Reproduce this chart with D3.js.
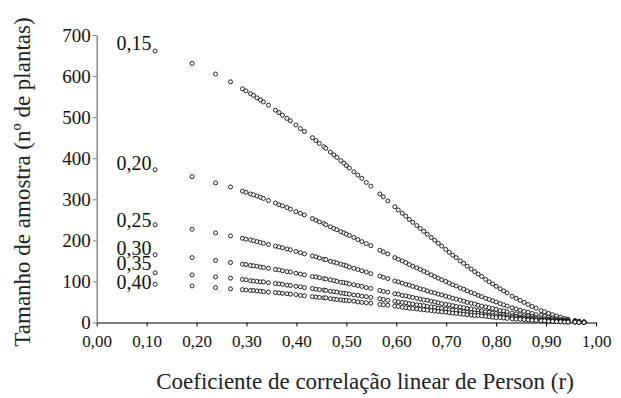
<!DOCTYPE html>
<html>
<head>
<meta charset="utf-8">
<script src="https://cdn.jsdelivr.net/npm/d3@7"></script>
<style>
body { margin: 0; background: #fff; }
svg { display: block; }
</style>
</head>
<body>
<div id="chart"></div>
<script>
// Pearson r observed for each pair of traits
var rValues = [0.117, 0.191, 0.238, 0.268, 0.292, 0.299, 0.308, 0.314, 0.321, 0.328,
    0.334, 0.344, 0.358, 0.365, 0.372, 0.381, 0.388, 0.399, 0.408, 0.416,
    0.432, 0.439, 0.446, 0.455, 0.459, 0.468, 0.475, 0.481, 0.489, 0.495,
    0.500, 0.506, 0.515, 0.523, 0.531, 0.540, 0.549, 0.567, 0.574, 0.583,
    0.597, 0.604, 0.612, 0.619, 0.626, 0.633, 0.641, 0.648, 0.655, 0.662,
    0.670, 0.677, 0.684, 0.691, 0.699, 0.706, 0.713, 0.720, 0.728, 0.735,
    0.742, 0.750, 0.757, 0.764, 0.771, 0.779, 0.786, 0.793, 0.800, 0.808,
    0.815, 0.822, 0.832, 0.840, 0.848, 0.856, 0.864, 0.872, 0.880, 0.890,
    0.897, 0.905, 0.913, 0.921, 0.929, 0.937, 0.944, 0.958, 0.966, 0.976];

// sample size for each semi-amplitude of the interval
var n015 = [661, 631, 605, 586, 569, 564, 557, 553, 547, 542,
    537, 529, 517, 511, 505, 497, 491, 481, 472, 465,
    450, 443, 436, 428, 424, 415, 408, 402, 394, 388,
    382, 376, 367, 359, 351, 341, 332, 313, 306, 296,
    282, 274, 266, 259, 251, 244, 236, 229, 222, 215,
    207, 200, 193, 186, 178, 171, 164, 158, 150, 144,
    137, 130, 124, 118, 112, 105, 99, 94, 88, 82,
    77, 72, 64, 59, 54, 49, 44, 39, 35, 29,
    26, 22, 19, 16, 13, 10, 8, 5, 3, 2];
var n020 = [372, 355, 340, 330, 320, 317, 313, 311, 308, 305,
    302, 297, 291, 287, 284, 280, 276, 270, 266, 262,
    253, 249, 245, 241, 238, 233, 229, 226, 221, 218,
    215, 212, 207, 202, 197, 192, 187, 176, 172, 167,
    158, 154, 150, 146, 141, 137, 133, 129, 125, 121,
    116, 112, 108, 104, 100, 96, 92, 89, 84, 81,
    77, 73, 70, 66, 63, 59, 56, 53, 50, 46,
    43, 40, 36, 33, 30, 27, 25, 22, 19, 17,
    15, 13, 11, 9, 7, 6, 5, 3, 2, 1];
var n025 = [238, 227, 218, 211, 205, 203, 201, 199, 197, 195,
    193, 190, 186, 184, 182, 179, 177, 173, 170, 167,
    162, 160, 157, 154, 153, 149, 147, 145, 142, 140,
    138, 135, 132, 129, 126, 123, 119, 113, 110, 107,
    101, 99, 96, 93, 91, 88, 85, 82, 80, 77,
    74, 72, 69, 67, 64, 62, 59, 57, 54, 52,
    49, 47, 45, 42, 40, 38, 36, 34, 32, 29,
    28, 26, 23, 21, 19, 17, 16, 14, 12, 11,
    9, 8, 7, 6, 5, 4, 3, 2, 1, 1];
var n030 = [165, 158, 151, 146, 142, 141, 139, 138, 137, 135,
    134, 132, 129, 128, 126, 124, 123, 120, 118, 116,
    112, 111, 109, 107, 106, 104, 102, 100, 98, 97,
    96, 94, 92, 90, 88, 85, 83, 78, 76, 74,
    70, 69, 66, 65, 63, 61, 59, 57, 55, 54,
    52, 50, 48, 46, 44, 43, 41, 39, 38, 36,
    34, 33, 31, 29, 28, 26, 25, 23, 22, 20,
    19, 18, 16, 15, 13, 12, 11, 10, 9, 7,
    6, 6, 5, 4, 3, 3, 2, 1, 1, 0];
var n035 = [121, 116, 111, 108, 105, 104, 102, 101, 100, 99,
    99, 97, 95, 94, 93, 91, 90, 88, 87, 85,
    83, 81, 80, 79, 78, 76, 75, 74, 72, 71,
    70, 69, 67, 66, 64, 63, 61, 58, 56, 54,
    52, 50, 49, 48, 46, 45, 43, 42, 41, 39,
    38, 37, 35, 34, 33, 31, 30, 29, 28, 26,
    25, 24, 23, 22, 21, 19, 18, 17, 16, 15,
    14, 13, 12, 11, 10, 9, 8, 7, 6, 5,
    5, 4, 3, 3, 2, 2, 1, 1, 1, 0];
var n040 = [93, 89, 85, 82, 80, 79, 78, 78, 77, 76,
    75, 74, 73, 72, 71, 70, 69, 68, 66, 65,
    63, 62, 61, 60, 60, 58, 57, 56, 55, 54,
    54, 53, 52, 50, 49, 48, 47, 44, 43, 42,
    40, 39, 37, 36, 35, 34, 33, 32, 31, 30,
    29, 28, 27, 26, 25, 24, 23, 22, 21, 20,
    19, 18, 17, 17, 16, 15, 14, 13, 12, 12,
    11, 10, 9, 8, 8, 7, 6, 5, 5, 4,
    4, 3, 3, 2, 2, 1, 1, 1, 0, 0];

var seriesNames = ["0,15", "0,20", "0,25", "0,30", "0,35", "0,40"];
var seriesValues = [n015, n020, n025, n030, n035, n040];

var xTicks = [0, 0.1, 0.2, 0.3, 0.4, 0.5, 0.6, 0.7, 0.8, 0.9, 1.0];
var yTicks = [0, 100, 200, 300, 400, 500, 600, 700];

var width = 621,
    height = 398;
var font = "'Liberation Serif', 'Times New Roman', serif";

// labels were nudged by hand in the original so they don't collide
var labelDy = [-1, 0, 2, 0, -3, 4.5];

var svg = d3.select("#chart").append("svg")
    .attr("width", width)
    .attr("height", height)
    .style("background-color", "white");

var x = d3.scaleLinear().domain([0, 1]).range([96.7, 596]);
var y = d3.scaleLinear().domain([0, 700]).range([322.5, 35]);

// x axis
var xAxis = svg.append("g")
    .attr("transform", "translate(0," + y(0) + ")")
    .call(d3.axisBottom(x)
        .tickValues(xTicks)
        .tickSize(4)
        .tickSizeOuter(0)
        .tickFormat(function(d) { return d3.format(".2f")(d).replace(".", ","); }));
xAxis.attr("font-family", null);
xAxis.select(".domain").attr("stroke", "#000").attr("stroke-width", 1.2);
xAxis.selectAll(".tick line").attr("stroke", "#000");
xAxis.selectAll(".tick text")
    .attr("dy", null)
    .attr("y", 24.5)
    .attr("fill", "#111")
    .style("font-family", font)
    .style("font-size", "17px");

// y axis
var yAxis = svg.append("g")
    .attr("transform", "translate(" + x(0) + ",0)")
    .call(d3.axisLeft(y)
        .tickValues(yTicks)
        .tickSize(4)
        .tickSizeOuter(0)
        .tickPadding(2));
yAxis.attr("font-family", null);
yAxis.select(".domain").attr("stroke", "#808080").attr("stroke-width", 1.4);
yAxis.selectAll(".tick line").attr("stroke", "#808080");
yAxis.selectAll(".tick text")
    .attr("fill", "#111")
    .style("font-family", font)
    .style("font-size", "19px");

// points
var series = svg.selectAll("g.series")
    .data(seriesValues)
    .join("g")
    .attr("class", "series");

series.selectAll("circle")
    .data(function(vals) {
        return vals.map(function(v, i) { return { r: rValues[i], n: v }; });
    })
    .join("circle")
    .attr("cx", function(d) { return x(d.r); })
    .attr("cy", function(d) { return y(d.n); })
    .attr("r", 2)
    .attr("fill", "white")
    .attr("stroke", "#000")
    .attr("stroke-width", 0.85);

// data labels next to the first point of each series
series.append("text")
    .attr("x", function(vals) { return x(rValues[0]) - 3.5; })
    .attr("y", function(vals, i) { return y(vals[0]) + labelDy[i]; })
    .attr("text-anchor", "end")
    .attr("fill", "#111")
    .style("font-family", font)
    .style("font-size", "20px")
    .text(function(vals, i) { return seriesNames[i]; });

// axis titles
svg.append("text")
    .attr("transform", "translate(30,182) rotate(-90)")
    .attr("text-anchor", "middle")
    .attr("fill", "#222")
    .style("font-family", font)
    .style("font-size", "23px")
    .text("Tamanho de amostra (nº de plantas)");

svg.append("text")
    .attr("x", 365)
    .attr("y", 389)
    .attr("text-anchor", "middle")
    .attr("fill", "#222")
    .style("font-family", font)
    .style("font-size", "23px")
    .text("Coeficiente de correlação linear de Person (r)");
</script>
</body>
</html>
